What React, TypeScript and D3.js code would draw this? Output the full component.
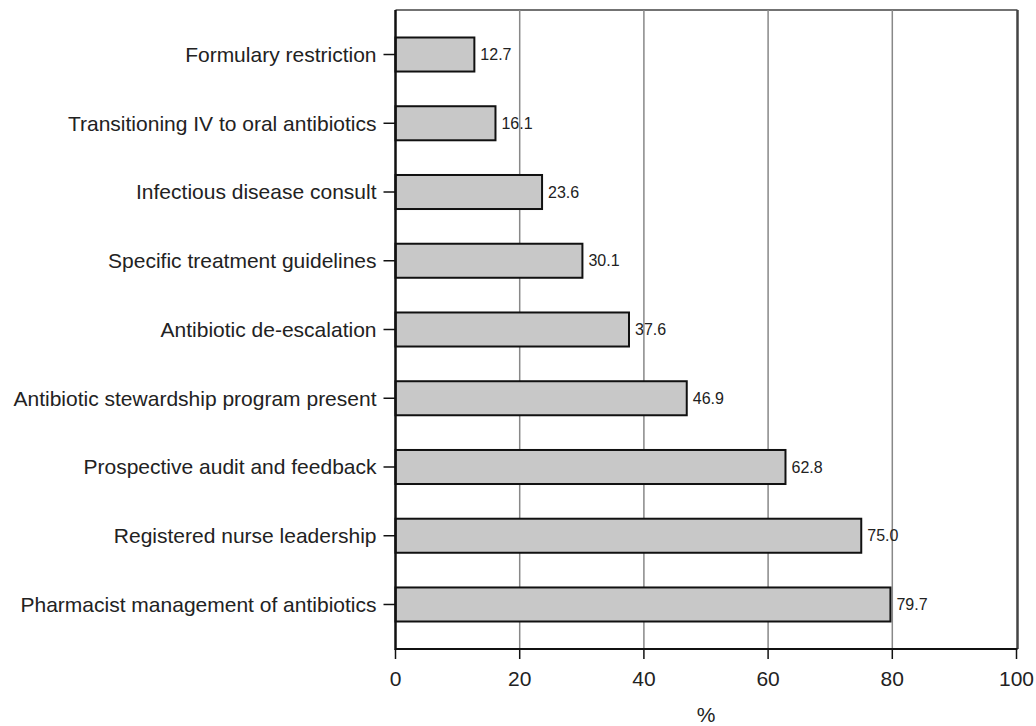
import React from "react";
import * as d3 from "d3";

const categories = [
  "Formulary restriction",
  "Transitioning IV to oral antibiotics",
  "Infectious disease consult",
  "Specific treatment guidelines",
  "Antibiotic de-escalation",
  "Antibiotic stewardship program present",
  "Prospective audit and feedback",
  "Registered nurse leadership",
  "Pharmacist management of antibiotics",
];
const values = [12.7, 16.1, 23.6, 30.1, 37.6, 46.9, 62.8, 75.0, 79.7];
const valueLabels = ["12.7", "16.1", "23.6", "30.1", "37.6", "46.9", "62.8", "75.0", "79.7"];
const xTicks = [0, 20, 40, 60, 80, 100];
const gridTicks = [20, 40, 60, 80];
const xTitle = "%";

const W = 1036;
const H = 726;
const left = 395.5;
const right = 1016.5;
const top = 10;
const bottom = 649;
const font = "'Liberation Sans', Arial, sans-serif";

export default function App() {
  const x = d3.scaleLinear().domain([0, 100]).range([left, right]);
  const y = d3
    .scaleBand<string>()
    .domain(categories)
    .range([top, bottom])
    .paddingInner(0.505)
    .paddingOuter(0.4);
  const bw = y.bandwidth();
  return (
    <svg
      width={W}
      height={H}
      style={{ position: "absolute", left: 0, top: 0, background: "#fff" }}
      fontFamily={font}
    >
      {/* frame top & right */}
      <line x1={left} x2={right + 1} y1={top} y2={top} stroke="#444" strokeWidth={1.5} />
      <line x1={right + 1} x2={right + 1} y1={top} y2={bottom} stroke="#444" strokeWidth={2.5} />
      {/* gridlines */}
      {gridTicks.map((t) => (
        <line key={t} x1={x(t)} x2={x(t)} y1={top} y2={bottom} stroke="#888" strokeWidth={1.5} />
      ))}
      {/* bars */}
      {categories.map((c, i) => (
        <g key={c}>
          <rect
            x={x(0)}
            y={y(c)!}
            width={x(values[i]) - x(0)}
            height={bw}
            fill="#c8c8c8"
            stroke="#111"
            strokeWidth={2}
          />
          <text
            x={x(values[i]) + 6}
            y={y(c)! + bw / 2}
            dy="0.35em"
            fontSize={16}
            fill="#222"
          >
            {valueLabels[i]}
          </text>
          <line
            x1={left - 12}
            x2={left}
            y1={y(c)! + bw / 2}
            y2={y(c)! + bw / 2}
            stroke="#111"
            strokeWidth={1.5}
          />
          <text
            x={left - 19}
            y={y(c)! + bw / 2}
            dy="0.35em"
            textAnchor="end"
            fontSize={21}
            fill="#222"
          >
            {c}
          </text>
        </g>
      ))}
      {/* axes */}
      <line x1={left} x2={left} y1={top} y2={bottom + 1} stroke="#111" strokeWidth={2.5} />
      <line x1={left} x2={right + 1} y1={bottom} y2={bottom} stroke="#111" strokeWidth={2} />
      {xTicks.map((t) => (
        <g key={t}>
          <line x1={x(t)} x2={x(t)} y1={bottom} y2={bottom + 10} stroke="#111" strokeWidth={1.5} />
          <text x={x(t)} y={679} dy="0.35em" textAnchor="middle" fontSize={21} fill="#222">
            {t}
          </text>
        </g>
      ))}
      <text x={706} y={715} dy="0.35em" textAnchor="middle" fontSize={21} fill="#222">
        {xTitle}
      </text>
    </svg>
  );
}
